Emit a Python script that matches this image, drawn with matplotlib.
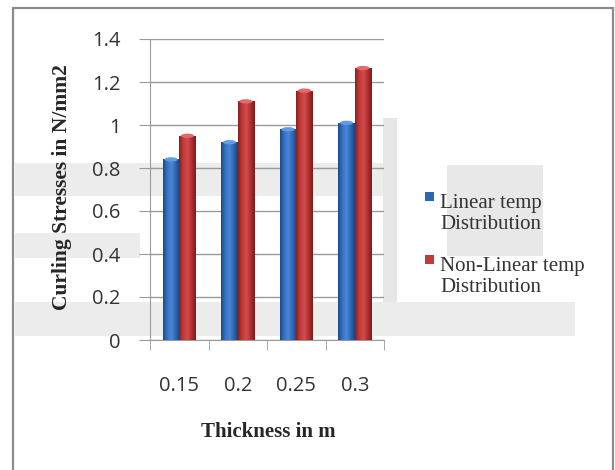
import numpy as np
import matplotlib
matplotlib.use("Agg")
import matplotlib.pyplot as plt
from matplotlib.patches import Rectangle, Ellipse
from matplotlib.colors import LinearSegmentedColormap


# data
thickness = ['0.15', '0.2', '0.25', '0.3']
linear = [0.84, 0.92, 0.98, 1.01]
non_linear = [0.95, 1.11, 1.16, 1.265]
series_names = ['Linear temp\nDistribution', 'Non-Linear temp\nDistribution']

W, H = 615, 470


def px(x, y):
    # pixel position -> figure fraction
    return x / W, 1 - y / H


fig = plt.figure(figsize=(W / 100, H / 100), dpi=100)

# faint watermark shapes behind the chart
def wm(x0, y0, x1, y1, c='#ececec'):
    a, b = px(x0, y1)
    fig.add_artist(Rectangle((a, b), (x1 - x0) / W, (y1 - y0) / H,
                             transform=fig.transFigure, facecolor=c,
                             edgecolor='none', zorder=-5))

wm(15, 163, 397, 196)
wm(15, 302, 575, 336)
wm(15, 233, 140, 258)
wm(383, 118, 397, 302, '#e6e6e6')
wm(447, 165, 543, 256, '#e8e8e8')

# outer chart frame
a, b = px(13, 480)
fig.add_artist(Rectangle((a, b), 600 / W, 472 / H, transform=fig.transFigure,
                         facecolor='none', edgecolor='#8c8c8c', lw=1.6, zorder=5))

l, btm = px(150, 340)
r, top = px(384, 39)
ax = fig.add_axes([l, btm, r - l, top - btm])
ax.patch.set_alpha(0)

x = np.arange(len(thickness))
bw = 0.28

blue_cm = LinearSegmentedColormap.from_list('b', ['#1d4a86', '#3673c4', '#4a86d4', '#2f66b2', '#1a4580'])
red_cm = LinearSegmentedColormap.from_list('r', ['#8a1f1f', '#c23a3a', '#d24c4c', '#b03030', '#7e1a1a'])
grad = np.linspace(0, 1, 64).reshape(1, -1)

for vals, off, cm, cap in [(linear, -0.14, blue_cm, '#5f9be6'), (non_linear, 0.14, red_cm, '#e46a6a')]:
    bars = ax.bar(x + off, vals, bw, color='none', edgecolor='none', zorder=3)
    for bar in bars:
        x0 = bar.get_x()
        h = bar.get_height()
        im = ax.imshow(grad, cmap=cm, aspect='auto', extent=[x0, x0 + bw, 0, h], zorder=3)
        im.set_clip_path(bar)
        ax.add_patch(Ellipse((x0 + bw / 2, h), bw * 0.8, 0.02, facecolor=cap,
                             edgecolor='none', zorder=4))

ax.set_xlim(-0.5, 3.5)
ax.set_ylim(0, 1.4)
ax.set_yticks(np.arange(0, 1.41, 0.2))
ax.set_yticklabels(['0', '0.2', '0.4', '0.6', '0.8', '1', '1.2', '1.4'])
ax.yaxis.grid(True, color='#9a9a9a', lw=1)
ax.set_axisbelow(True)

ax.set_xticks(x)
ax.set_xticklabels(thickness)
ax.set_xticks(np.arange(-0.5, 4, 1), minor=True)
ax.tick_params(axis='x', which='major', length=0, pad=26)
ax.tick_params(axis='x', which='minor', length=7, color='#9a9a9a')
ax.tick_params(axis='y', length=8, color='#9a9a9a', pad=13)
ax.tick_params(labelsize=14.5, labelcolor='#333333')
for t in ax.get_xticklabels() + ax.get_yticklabels():
    t.set_family('Open Sans')

for s in ['top', 'right']:
    ax.spines[s].set_visible(False)
for s in ['left', 'bottom']:
    ax.spines[s].set_color('#9a9a9a')

# axis titles
fig.text(*px(62, 187), 'Curling Stresses in N/mm2', rotation=90, ha='center', va='center',
         family='Liberation Serif', weight='bold', fontsize=15.5, color='#262626')
fig.text(*px(268, 432), 'Thickness in m', ha='center', va='center',
         family='Liberation Serif', weight='bold', fontsize=15, color='#262626')

# legend
for i, (name, c) in enumerate(zip(series_names, ['#2f66b2', '#c23a3a'])):
    yy = 214 + i * 63
    mx, my = px(425, yy - 13)
    fig.add_artist(Rectangle((mx, my), 9 / W, 9 / H, transform=fig.transFigure,
                             facecolor=c, edgecolor='none'))
    fig.text(*px(440, yy), name, ha='left', va='center', family='Liberation Serif',
             fontsize=15, linespacing=1.15, color='#333333')

fig.savefig('out.png', dpi=100)
